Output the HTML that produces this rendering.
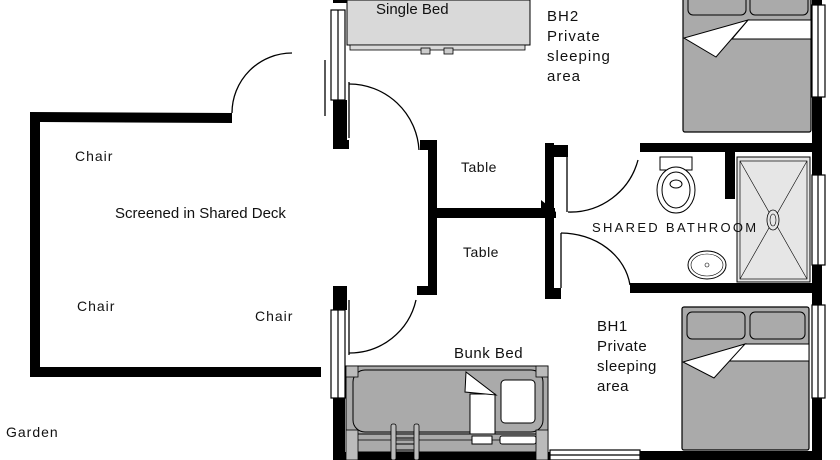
<!DOCTYPE html>
<html><head><meta charset="utf-8"><style>
html,body{margin:0;padding:0;background:#fff;width:840px;height:460px;overflow:hidden}
svg{display:block}
text{font-family:"Liberation Sans",sans-serif;fill:#111}
</style></head><body>
<svg width="840" height="460" viewBox="0 0 840 460" xmlns="http://www.w3.org/2000/svg">
<g fill="#000">
<polygon points="30,112 232,113 232,123 40,122 40,367 321,367 321,377 30,377"/>
<rect x="333" y="0" width="14" height="3"/>
<rect x="333" y="100" width="14" height="49"/>
<rect x="333" y="140" width="16" height="9"/>
<rect x="333" y="286" width="14" height="24"/>
<rect x="333" y="395" width="12" height="65"/>
<rect x="428" y="140" width="9" height="155"/>
<rect x="420" y="140" width="17" height="10"/>
<rect x="417" y="286" width="20" height="9"/>
<rect x="437" y="208" width="118" height="10"/>
<rect x="545" y="143" width="9" height="156"/>
<rect x="553" y="145" width="15" height="12"/>
<rect x="553" y="288" width="8" height="11"/>
<polygon points="541,200 556,212 556,218 541,218"/>
<rect x="640" y="143" width="182" height="9"/>
<rect x="725" y="143" width="10" height="56"/>
<rect x="630" y="283" width="192" height="10"/>
<rect x="812" y="0" width="10" height="460"/>
<rect x="345" y="452" width="205" height="8"/>
<rect x="640" y="451" width="182" height="9"/>
</g>
<g fill="#fff" stroke="#000" stroke-width="1.2">
<rect x="331" y="10" width="14" height="90"/><line x1="338" y1="10" x2="338" y2="100"/>
<rect x="331" y="310" width="14" height="88"/><line x1="338" y1="310" x2="338" y2="398"/>
<rect x="812" y="5" width="13" height="92"/><line x1="818" y1="5" x2="818" y2="97"/>
<rect x="812" y="175" width="13" height="90"/><line x1="818" y1="175" x2="818" y2="265"/>
<rect x="812" y="305" width="13" height="93"/><line x1="818" y1="305" x2="818" y2="398"/>
<rect x="550" y="450" width="90" height="10"/><line x1="550" y1="455" x2="640" y2="455"/>
</g>
<g fill="none" stroke="#000" stroke-width="1.3">
<path d="M232,113 A60,60 0 0 1 292,53"/>
<line x1="325" y1="60" x2="325" y2="116"/>
<line x1="349" y1="82" x2="349" y2="138"/>
<path d="M349,84 A70,70 0 0 1 419,150"/>
<line x1="349" y1="300" x2="349" y2="355"/>
<path d="M416,300 A68,68 0 0 1 349,353"/>
<line x1="567" y1="157" x2="567" y2="212"/>
<path d="M568,212 A70,70 0 0 0 638,160"/>
<line x1="561" y1="233" x2="561" y2="288"/>
<path d="M561,233 A70,60 0 0 1 630,285"/>
</g>
<rect x="347" y="0" width="183" height="45" fill="#d9d9d9" stroke="#000" stroke-width="1"/>
<rect x="350" y="45" width="175" height="5" fill="#d9d9d9" stroke="#000" stroke-width="0.8"/>
<rect x="421" y="48" width="9" height="6" fill="#ccc" stroke="#000" stroke-width="0.8"/>
<rect x="444" y="48" width="9" height="6" fill="#ccc" stroke="#000" stroke-width="0.8"/>
<rect x="683" y="-5" width="128" height="137" rx="2" fill="#aaa" stroke="#000" stroke-width="1.2"/>
<rect x="688" y="-5" width="58" height="20" rx="5" fill="#aaa" stroke="#000"/>
<rect x="750" y="-5" width="58" height="20" rx="5" fill="#aaa" stroke="#000"/>
<polygon points="748,20 811,20 811,39 732,39" fill="#fff" stroke="#000"/>
<polygon points="748,20 684,38 716,57" fill="#fff" stroke="#000"/>
<rect x="682" y="307" width="127" height="143" rx="2" fill="#aaa" stroke="#000" stroke-width="1.2"/>
<rect x="687" y="312" width="58" height="27" rx="5" fill="#aaa" stroke="#000"/>
<rect x="750" y="312" width="55" height="27" rx="5" fill="#aaa" stroke="#000"/>
<polygon points="745,344 809,344 809,361 727,361" fill="#fff" stroke="#000"/>
<polygon points="745,344 683,362 714,378" fill="#fff" stroke="#000"/>
<rect x="346" y="366" width="202" height="86" fill="#aaa" stroke="#000"/>
<rect x="353" y="370" width="190" height="62" rx="12" fill="#aaa" stroke="#000"/>
<line x1="346" y1="434" x2="548" y2="434" stroke="#000"/>
<line x1="346" y1="440" x2="548" y2="440" stroke="#000" stroke-width="0.7"/>
<g fill="#bbb" stroke="#000" stroke-width="0.8">
<rect x="346" y="366" width="12" height="11"/><rect x="536" y="366" width="12" height="11"/>
<rect x="346" y="430" width="12" height="30"/><rect x="536" y="430" width="12" height="30"/>
</g>
<rect x="501" y="380" width="34" height="43" rx="4" fill="#fff" stroke="#000"/>
<rect x="470" y="394" width="25" height="40" fill="#fff" stroke="#000"/>
<polygon points="466,372 465,392 496,395" fill="#fff" stroke="#000"/>
<rect x="472" y="436" width="20" height="8" fill="#fff" stroke="#000"/>
<rect x="500" y="436" width="36" height="8" rx="2" fill="#fff" stroke="#000"/>
<g stroke="#000" fill="#bbb" stroke-width="0.8">
<rect x="391" y="424" width="5" height="36" rx="2"/><rect x="414" y="424" width="5" height="36" rx="2"/>
</g>
<g stroke="#000" stroke-width="1"><line x1="396" y1="432" x2="414" y2="432"/><line x1="396" y1="438" x2="414" y2="438"/><line x1="396" y1="444" x2="414" y2="444"/><line x1="396" y1="450" x2="414" y2="450"/></g>
<rect x="737" y="157" width="73" height="125" fill="#e6e6e6" stroke="#000"/>
<rect x="740" y="161" width="67" height="118" fill="none" stroke="#000" stroke-width="0.7"/>
<line x1="740" y1="161" x2="807" y2="279" stroke="#000" stroke-width="0.6"/>
<line x1="807" y1="161" x2="740" y2="279" stroke="#000" stroke-width="0.6"/>
<ellipse cx="773" cy="220" rx="6" ry="10" fill="#e6e6e6" stroke="#000" stroke-width="0.8"/>
<ellipse cx="773" cy="220" rx="3" ry="6" fill="none" stroke="#000" stroke-width="0.6"/>
<rect x="660" y="157" width="32" height="13" fill="#fff" stroke="#000"/>
<ellipse cx="676" cy="190" rx="19" ry="23" fill="#fff" stroke="#000"/>
<ellipse cx="676" cy="190" rx="14" ry="18" fill="none" stroke="#000"/>
<ellipse cx="676" cy="184" rx="6" ry="4" fill="none" stroke="#000"/>
<ellipse cx="707" cy="265" rx="19" ry="14" fill="#fff" stroke="#000"/>
<ellipse cx="707" cy="265" rx="16" ry="11" fill="none" stroke="#000" stroke-width="0.6"/>
<circle cx="707" cy="265" r="2" fill="none" stroke="#000" stroke-width="0.6"/>
<text x="376" y="14" font-size="15">Single Bed</text>
<g font-size="15" letter-spacing="1"><text x="547" y="21">BH2</text><text x="547" y="41">Private</text><text x="547" y="61">sleeping</text><text x="547" y="81">area</text></g>
<text x="75" y="161" font-size="14" letter-spacing="1">Chair</text>
<text x="115" y="218" font-size="15">Screened in Shared Deck</text>
<text x="461" y="172" font-size="14" letter-spacing="0.5">Table</text>
<text x="463" y="257" font-size="14" letter-spacing="0.5">Table</text>
<text x="592" y="232" font-size="13" letter-spacing="2.3">SHARED BATHROOM</text>
<text x="77" y="311" font-size="14" letter-spacing="1">Chair</text>
<text x="255" y="321" font-size="14" letter-spacing="1">Chair</text>
<text x="454" y="358" font-size="15" letter-spacing="0.5">Bunk Bed</text>
<g font-size="15" letter-spacing="0.5"><text x="597" y="331">BH1</text><text x="597" y="351">Private</text><text x="597" y="371">sleeping</text><text x="597" y="391">area</text></g>
<text x="6" y="437" font-size="14" letter-spacing="1">Garden</text>
</svg>
</body></html>
